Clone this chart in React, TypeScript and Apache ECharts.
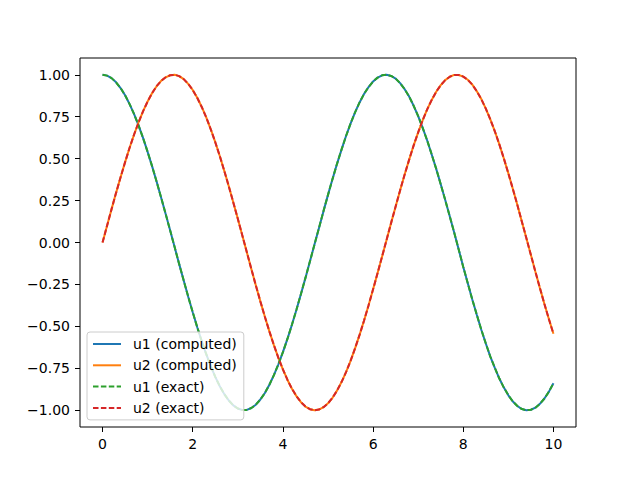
import React, { useEffect, useRef } from "react";
import * as echarts from "echarts";

const tValues = [
  0, 0.1, 0.2, 0.3, 0.4, 0.5, 0.6, 0.7, 0.8, 0.9, 1.0, 1.1, 1.2, 1.3, 1.4, 1.5, 1.6, 1.7, 1.8, 1.9,
  2.0, 2.1, 2.2, 2.3, 2.4, 2.5, 2.6, 2.7, 2.8, 2.9, 3.0, 3.1, 3.2, 3.3, 3.4, 3.5, 3.6, 3.7, 3.8, 3.9,
  4.0, 4.1, 4.2, 4.3, 4.4, 4.5, 4.6, 4.7, 4.8, 4.9, 5.0, 5.1, 5.2, 5.3, 5.4, 5.5, 5.6, 5.7, 5.8, 5.9,
  6.0, 6.1, 6.2, 6.3, 6.4, 6.5, 6.6, 6.7, 6.8, 6.9, 7.0, 7.1, 7.2, 7.3, 7.4, 7.5, 7.6, 7.7, 7.8, 7.9,
  8.0, 8.1, 8.2, 8.3, 8.4, 8.5, 8.6, 8.7, 8.8, 8.9, 9.0, 9.1, 9.2, 9.3, 9.4, 9.5, 9.6, 9.7, 9.8, 9.9,
  10.0,
];
const u1Values = [
  1.0, 0.995, 0.98, 0.955, 0.921, 0.878, 0.825, 0.765, 0.697, 0.622,
  0.54, 0.454, 0.362, 0.267, 0.17, 0.071, -0.029, -0.129, -0.227, -0.323,
  -0.416, -0.505, -0.589, -0.666, -0.737, -0.801, -0.857, -0.904, -0.942, -0.971,
  -0.99, -0.999, -0.998, -0.987, -0.967, -0.936, -0.897, -0.848, -0.791, -0.726,
  -0.654, -0.575, -0.49, -0.401, -0.307, -0.211, -0.112, -0.012, 0.087, 0.187,
  0.284, 0.378, 0.469, 0.554, 0.635, 0.709, 0.776, 0.835, 0.886, 0.927,
  0.96, 0.983, 0.997, 1.0, 0.993, 0.977, 0.95, 0.914, 0.87, 0.815,
  0.754, 0.683, 0.608, 0.525, 0.439, 0.347, 0.253, 0.156, 0.058, -0.043,
  -0.146, -0.243, -0.34, -0.431, -0.52, -0.602, -0.68, -0.748, -0.811, -0.865,
  -0.911, -0.948, -0.975, -0.993, -1.0, -0.997, -0.985, -0.962, -0.93, -0.889,
  -0.839,
];
const u2Values = [
  0, 0.1, 0.199, 0.296, 0.389, 0.479, 0.565, 0.644, 0.717, 0.783,
  0.841, 0.891, 0.932, 0.964, 0.985, 0.997, 1.0, 0.992, 0.974, 0.946,
  0.909, 0.863, 0.808, 0.746, 0.675, 0.598, 0.516, 0.427, 0.335, 0.239,
  0.141, 0.042, -0.058, -0.158, -0.256, -0.351, -0.443, -0.53, -0.612, -0.688,
  -0.757, -0.818, -0.872, -0.916, -0.952, -0.978, -0.994, -1.0, -0.996, -0.982,
  -0.959, -0.926, -0.883, -0.832, -0.773, -0.706, -0.631, -0.551, -0.465, -0.374,
  -0.279, -0.182, -0.083, 0.017, 0.117, 0.215, 0.312, 0.405, 0.494, 0.579,
  0.657, 0.729, 0.794, 0.85, 0.899, 0.938, 0.968, 0.988, 0.999, 0.999,
  0.989, 0.97, 0.941, 0.902, 0.855, 0.798, 0.734, 0.663, 0.585, 0.501,
  0.412, 0.319, 0.223, 0.124, 0.025, -0.075, -0.175, -0.272, -0.367, -0.458,
  -0.544,
];
const xTicks = [0, 2, 4, 6, 8, 10];
const yTicks = [-1.0, -0.75, -0.5, -0.25, 0.0, 0.25, 0.5, 0.75, 1.0];
const seriesNames = ["u1 (computed)", "u2 (computed)", "u1 (exact)", "u2 (exact)"];

const FONT = "DejaVu Sans";

export default function App() {
  const ref = useRef<HTMLDivElement>(null);
  useEffect(() => {
    if (!ref.current) return;
    const chart = echarts.init(ref.current, null, { renderer: "svg" });
    const pts = (vals: number[]) => tValues.map((t, i) => [t, vals[i]]);
    const dash = [5.5, 2.4];
    const mk = (name: string, vals: number[], color: string, dashed: boolean, z: number) => ({
      name,
      type: "line",
      data: pts(vals),
      showSymbol: false,
      symbol: "none",
      z,
      lineStyle: { color, width: 2, type: dashed ? dash : "solid" },
      itemStyle: { color },
    });
    const tickStyle = { show: true, length: 5, lineStyle: { color: "#000", width: 1 } };
    const labelStyle = { color: "#000", fontSize: 14, fontFamily: FONT, margin: 10 };
    chart.setOption({
      animation: false,
      backgroundColor: "#fff",
      textStyle: { fontFamily: FONT },
      grid: {
        left: 80,
        right: 64,
        top: 58,
        bottom: 53,
        show: true,
        borderColor: "#000",
        borderWidth: 1,
        backgroundColor: "transparent",
      },
      xAxis: {
        type: "value",
        min: -0.5,
        max: 10.5,
        splitLine: { show: false },
        axisLine: { show: false, onZero: false },
        axisTick: { ...tickStyle, customValues: xTicks },
        axisLabel: { ...labelStyle, customValues: xTicks, formatter: (v: number) => String(v) },
      },
      yAxis: {
        type: "value",
        min: -1.1,
        max: 1.1,
        splitLine: { show: false },
        axisLine: { show: false, onZero: false },
        axisTick: { ...tickStyle, customValues: yTicks },
        axisLabel: {
          ...labelStyle,
          customValues: yTicks,
          formatter: (v: number) => (v < 0 ? "\u2212" + Math.abs(v).toFixed(2) : v.toFixed(2)),
        },
      },
      legend: {
        orient: "vertical",
        left: 87,
        top: 332,
        z: 20,
        zlevel: 0,
        data: seriesNames,
        backgroundColor: "rgba(255,255,255,0.8)",
        borderColor: "#cccccc",
        borderWidth: 1,
        borderRadius: 3,
        padding: [5, 7, 5, 5],
        itemWidth: 28,
        itemHeight: 14,
        itemGap: 7.3,
        itemStyle: { opacity: 0 },
        textStyle: { color: "#000", fontSize: 14, fontFamily: FONT, padding: [0, 0, 0, 7] },
      },
      series: [
        mk(seriesNames[0], u1Values, "#1f77b4", false, 2),
        mk(seriesNames[1], u2Values, "#ff7f0e", false, 3),
        mk(seriesNames[2], u1Values, "#2ca02c", true, 4),
        mk(seriesNames[3], u2Values, "#d62728", true, 5),
      ],
    });
    return () => chart.dispose();
  }, []);
  return <div ref={ref} style={{ width: 640, height: 480, position: "absolute", left: 0, top: 0 }} />;
}
